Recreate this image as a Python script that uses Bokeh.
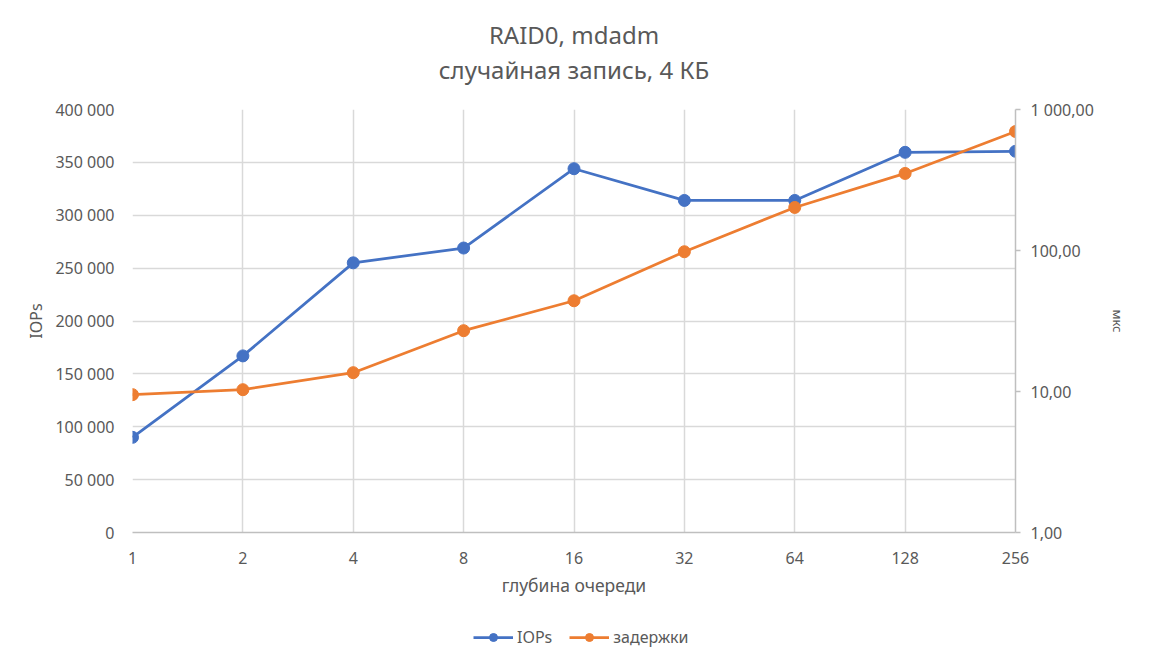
from bokeh.plotting import figure
from bokeh.layouts import column
from bokeh.models import (Range1d, LogScale, LogAxis, FixedTicker, Legend,
                          LegendItem, Title)
from bokeh.embed import file_html
from bokeh.resources import INLINE

queue_depth = ["1", "2", "4", "8", "16", "32", "64", "128", "256"]
iops = [90000, 167000, 255000, 269000, 344000, 314000, 314000, 359500, 360500]
latency_us = [9.5, 10.3, 13.6, 27, 44, 98, 202, 352, 698]
iops_ticks = [0, 50000, 100000, 150000, 200000, 250000, 300000, 350000, 400000]
iops_tick_labels = ["0", "50 000", "100 000", "150 000", "200 000", "250 000", "300 000", "350 000", "400 000"]
lat_ticks = [1, 10, 100, 1000]
lat_tick_labels = ["1,00", "10,00", "100,00", "1 000,00"]
series_names = ["IOPs", "задержки"]

FONT = "Noto Sans"
GREY = "#595959"
BLUE = "#4472C4"
ORANGE = "#ED7D31"
GRID = "#d9d9d9"

xs = list(range(len(queue_depth)))

W = 1135
H1 = 605
H2 = 47
LEFT = 132

p = figure(width=W, height=H1, output_backend="svg", toolbar_location=None,
           title=None, x_range=Range1d(0, len(queue_depth) - 1),
           y_range=Range1d(0, 400000),
           min_border_left=LEFT, min_border_right=120, min_border_top=109,
           min_border_bottom=H1 - 532)
p.outline_line_color = None
p.background_fill_color = "white"
p.border_fill_color = "white"

p.extra_y_ranges = {"lat": Range1d(1, 1000)}
p.extra_y_scales = {"lat": LogScale()}

# x axis
p.xaxis.ticker = FixedTicker(ticks=xs)
p.xaxis.major_label_overrides = {i: s for i, s in enumerate(queue_depth)}
p.xaxis.axis_label = "глубина очереди"
p.xaxis.axis_line_color = "#bfbfbf"
p.xaxis.axis_line_width = 1.5
p.xaxis.major_tick_line_color = None
p.xaxis.minor_tick_line_color = None
p.xaxis.major_label_text_font = FONT
p.xaxis.major_label_text_font_size = "16px"
p.xaxis.major_label_text_color = GREY
p.xaxis.major_label_standoff = 13
p.xaxis.axis_label_text_font = FONT
p.xaxis.axis_label_text_font_size = "17.5px"
p.xaxis.axis_label_text_font_style = "normal"
p.xaxis.axis_label_text_color = GREY
p.xaxis.axis_label_standoff = 6

# left axis
p.yaxis.ticker = FixedTicker(ticks=iops_ticks)
p.yaxis.major_label_overrides = {t: s for t, s in zip(iops_ticks, iops_tick_labels)}
p.yaxis.axis_label = "IOPs"
p.yaxis.axis_line_color = None
p.yaxis.major_tick_line_color = None
p.yaxis.minor_tick_line_color = None
p.yaxis.major_label_text_font = FONT
p.yaxis.major_label_text_font_size = "16px"
p.yaxis.major_label_text_color = GREY
p.yaxis.major_label_standoff = 12
p.yaxis.axis_label_text_font = FONT
p.yaxis.axis_label_text_font_size = "16px"
p.yaxis.axis_label_text_font_style = "normal"
p.yaxis.axis_label_text_color = GREY
p.yaxis.axis_label_standoff = 5

# right axis (log)
ra = LogAxis(y_range_name="lat", ticker=FixedTicker(ticks=lat_ticks),
             axis_label="мкс")
ra.major_label_overrides = {t: s for t, s in zip(lat_ticks, lat_tick_labels)}
ra.axis_line_color = "#bfbfbf"
ra.axis_line_width = 1.5
ra.major_tick_line_color = "#bfbfbf"
ra.major_tick_line_width = 1.5
ra.major_tick_out = 5
ra.major_tick_in = 0
ra.minor_tick_line_color = None
ra.major_label_text_font = FONT
ra.major_label_text_font_size = "16px"
ra.major_label_text_color = GREY
ra.major_label_standoff = 10
ra.axis_label_text_font = FONT
ra.axis_label_text_font_size = "13px"
ra.axis_label_text_font_style = "normal"
ra.axis_label_text_color = GREY
ra.axis_label_standoff = 12
p.add_layout(ra, "right")

p.xgrid.grid_line_color = GRID
p.xgrid.grid_line_width = 1.5
p.ygrid.grid_line_color = GRID
p.ygrid.grid_line_width = 1.5

p.line(xs, iops, line_color=BLUE, line_width=2.75)
p.scatter(xs, iops, size=12, fill_color=BLUE, line_color=BLUE)
p.line(xs, latency_us, line_color=ORANGE, line_width=2.75, y_range_name="lat")
p.scatter(xs, latency_us, size=12, fill_color=ORANGE, line_color=ORANGE, y_range_name="lat")

# titles (first added is nearest the frame)
p.add_layout(Title(text=" ", text_font=FONT, text_font_size="16px", standoff=0), "above")
p.add_layout(Title(text="случайная запись, 4 КБ", align="center", text_font=FONT,
                   text_font_size="24px", text_font_style="normal", text_color=GREY,
                   text_line_height=0.9, standoff=0), "above")
p.add_layout(Title(text="RAID0, mdadm", align="center", text_font=FONT,
                   text_font_size="24px", text_font_style="normal", text_color=GREY,
                   text_line_height=0.9, standoff=0), "above")

# legend strip below (its frame is aligned with the main frame by the column layout)
lg = figure(width=W, height=H2, output_backend="svg", toolbar_location=None,
            title=None, x_range=Range1d(0, 1), y_range=Range1d(0, 1),
            x_axis_location=None, y_axis_location=None, min_border=0)
lg.outline_line_color = None
lg.xgrid.visible = False
lg.ygrid.visible = False
# renderers for the legend keys only: the data lies outside this strip's ranges
ll1 = lg.line(xs, iops, line_color=BLUE, line_width=2.75)
ls1 = lg.scatter(xs, iops, size=12, fill_color=BLUE, line_color=BLUE)
ll2 = lg.line(xs, [v * 1000 for v in latency_us], line_color=ORANGE, line_width=2.75)
ls2 = lg.scatter(xs, [v * 1000 for v in latency_us], size=12, fill_color=ORANGE, line_color=ORANGE)
legend = Legend(items=[LegendItem(label=series_names[0], renderers=[ll1, ls1]),
                       LegendItem(label=series_names[1], renderers=[ll2, ls2])],
                orientation="horizontal", location=(473 - LEFT, 4),
                label_text_font=FONT, label_text_font_size="16px", label_text_color=GREY,
                border_line_color=None, background_fill_alpha=0,
                glyph_width=40, spacing=17, margin=0, padding=0, label_standoff=4)
lg.add_layout(legend, "center")

layout = column(p, lg, spacing=0)
open("out.html", "w").write(file_html(layout, INLINE))
